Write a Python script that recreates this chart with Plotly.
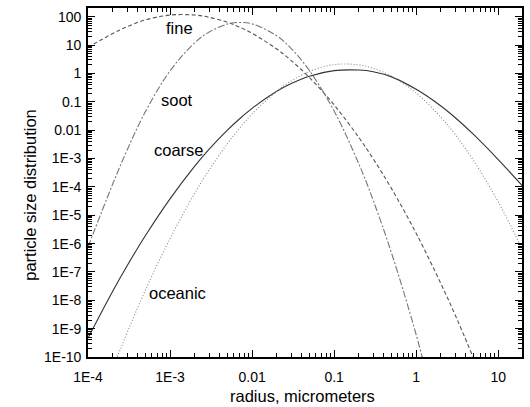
import plotly.graph_objects as go

# radius grid (micrometers) shared by the curves
radius = [1e-4, 2e-4, 3e-4, 5e-4, 1e-3, 2e-3, 3e-3, 5e-3, 7e-3, 1e-2, 2e-2, 3e-2, 5e-2,
          0.1, 0.2, 0.3, 0.5, 1, 2, 3, 5, 10, 20]

fine = [8.3, 25.7, 44.7, 77.6, 115, 115, 96, 64, 43.6, 26.3, 7.28, 2.86, 0.72,
        0.078, 5.55e-3, 9.7e-4, 8.8e-5, 2.3e-6, 3.9e-8, 2.95e-9, 9.0e-11, 5.4e-13, None]

soot = [7.6e-7, 1.26e-4, 2.0e-3, 4.47e-2, 1.23, 12.1, 29.2, 55.4, 63.1, 56.2, 21.2, 7.58, 1.27,
        4.75e-2, 6.5e-4, 3.3e-5, 4.7e-7, 6.1e-10, 2.8e-13, None, None, None, None]

coarse = [4.7e-10, 2.1e-8, 1.66e-7, 1.9e-6, 3.8e-5, 5.4e-4, 2.14e-3, 1.0e-2, 2.48e-2, 5.9e-2, 0.236, 0.443, 0.804,
          1.26, 1.32, 1.15, 0.76, 0.276, 0.0715, 0.0275, 7.1e-3, 9.2e-4, 1.04e-4]

oceanic = [1.7e-13, 3.85e-11, 7.2e-10, 2.25e-8, 1.51e-6, 5.97e-5, 3.98e-4, 3.35e-3, 1.15e-2, 3.73e-2, 0.239, 0.548, 1.18,
           2.06, 2.01, 1.52, 0.807, 0.205, 2.87e-2, 6.92e-3, 8.57e-4, 2.98e-5, 5.62e-7]

x_tick_vals = [1e-4, 1e-3, 1e-2, 1e-1, 1, 10]
x_tick_text = ["1E-4", "1E-3", "0.01", "0.1", "1", "10"]
y_tick_vals = [1e-10, 1e-9, 1e-8, 1e-7, 1e-6, 1e-5, 1e-4, 1e-3, 1e-2, 1e-1, 1, 10, 100]
y_tick_text = ["1E-10", "1E-9", "1E-8", "1E-7", "1E-6", "1E-5", "1E-4", "1E-3",
               "0.01", "0.1", "1", "10", "100"]

FONT = "Liberation Sans, Arial, sans-serif"

fig = go.Figure()
fig.add_trace(go.Scatter(x=radius, y=fine, mode="lines", name="fine",
                         line=dict(color="#555555", width=1.1, dash="4px,2.5px", shape="spline"),
                         connectgaps=False))
fig.add_trace(go.Scatter(x=radius, y=soot, mode="lines", name="soot",
                         line=dict(color="#777777", width=1.1, dash="7px,2px,2px,2px", shape="spline"),
                         connectgaps=False))
fig.add_trace(go.Scatter(x=radius, y=coarse, mode="lines", name="coarse",
                         line=dict(color="#333333", width=1.1, shape="spline")))
fig.add_trace(go.Scatter(x=radius, y=oceanic, mode="lines", name="oceanic",
                         line=dict(color="#888888", width=1.1, dash="1px,2px", shape="spline"),
                         connectgaps=False))

axis_common = dict(
    type="log", showgrid=False, zeroline=False,
    showline=True, linecolor="black", linewidth=1.6, mirror="ticks",
    ticks="inside", ticklen=7, tickwidth=1.2, tickcolor="black",
    tickfont=dict(family=FONT, size=14, color="black"),
    minor=dict(ticks="inside", ticklen=4, tickwidth=1, tickcolor="black", dtick="D1", showgrid=False),
)

fig.update_xaxes(range=[-4, 1.29], tickvals=x_tick_vals, ticktext=x_tick_text,
                 ticklabelstandoff=6, **axis_common)
fig.update_yaxes(range=[-10, 2.31], tickvals=y_tick_vals, ticktext=y_tick_text,
                 ticklabelstandoff=2, **axis_common)

labels = [("fine", 180, 27.5), ("soot", 177.5, 99), ("coarse", 179, 149), ("oceanic", 177.5, 292.5)]
annotations = []
for text, px, py in labels:
    annotations.append(dict(text=text, xref="paper", yref="paper",
                            x=(px - 88) / 436, y=(357 - py) / 350,
                            xanchor="center", yanchor="middle", showarrow=False,
                            font=dict(family=FONT, size=16.5, color="black")))
annotations.append(dict(text="radius, micrometers", xref="paper", yref="paper",
                        x=(303 - 88) / 436, y=(357 - 396.5) / 350,
                        xanchor="center", yanchor="middle", showarrow=False,
                        font=dict(family=FONT, size=16.5, color="black")))
annotations.append(dict(text="particle size distribution", xref="paper", yref="paper",
                        x=(30 - 88) / 436, y=(357 - 194) / 350, textangle=-90,
                        xanchor="center", yanchor="middle", showarrow=False,
                        font=dict(family=FONT, size=16.5, color="black")))

fig.update_layout(
    width=530, height=407,
    margin=dict(l=88, r=6, t=7, b=50),
    paper_bgcolor="white", plot_bgcolor="white",
    showlegend=False,
    annotations=annotations,
)

fig.write_html("out.html")
